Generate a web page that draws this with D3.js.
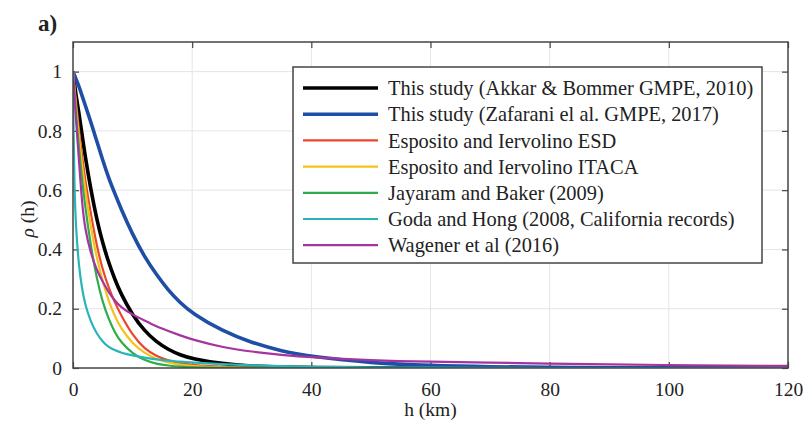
<!DOCTYPE html>
<html>
<head>
<meta charset="utf-8">
<script src="https://cdn.jsdelivr.net/npm/d3@7"></script>
<style>
  html, body { margin: 0; padding: 0; background: #fff; }
  svg { display: block; }
</style>
</head>
<body>
<svg id="chart" width="804" height="426"></svg>
<script>
// Separation distance h (km) at which each correlation model is sampled
const distances = [0, 0.1, 0.25, 0.5, 1, 1.5, 2, 3, 4, 5, 6, 7, 8, 10, 12, 14, 16, 18, 20,
  25, 30, 35, 40, 50, 60, 70, 80, 90, 100, 110, 120];

// Correlation coefficient rho(h) for each model
const akkarBommer = [1, 0.985, 0.96, 0.92, 0.86, 0.79, 0.72, 0.60, 0.50, 0.42, 0.355, 0.30, 0.252, 0.178, 0.125, 0.088, 0.062, 0.044, 0.031,
  0.014, 0.006, 0.003, 0.0015, 0.0005, 0, 0, 0, 0, 0, 0, 0];
const zafarani = [1, 0.995, 0.988, 0.975, 0.95, 0.92, 0.89, 0.83, 0.765, 0.70, 0.64, 0.59, 0.54, 0.45, 0.375, 0.315, 0.262, 0.22, 0.185,
  0.125, 0.085, 0.057, 0.038, 0.017, 0.008, 0.004, 0.002, 0.001, 0.0005, 0, 0];
const espositoESD = [1, 0.98, 0.95, 0.90, 0.80, 0.72, 0.64, 0.52, 0.41, 0.33, 0.27, 0.222, 0.18, 0.11, 0.064, 0.04, 0.025, 0.016, 0.01,
  0.004, 0.0013, 0.0004, 0, 0, 0, 0, 0, 0, 0, 0, 0];
const espositoITACA = [1, 0.975, 0.94, 0.88, 0.78, 0.69, 0.61, 0.47, 0.37, 0.29, 0.225, 0.175, 0.135, 0.082, 0.05, 0.03, 0.018, 0.011, 0.007,
  0.002, 0.0005, 0, 0, 0, 0, 0, 0, 0, 0, 0, 0];
const jayaramBaker = [1, 0.97, 0.93, 0.86, 0.74, 0.64, 0.55, 0.41, 0.30, 0.22, 0.165, 0.12, 0.088, 0.048, 0.026, 0.014, 0.008, 0.004, 0.002,
  0.0005, 0, 0, 0, 0, 0, 0, 0, 0, 0, 0, 0];
const godaHong = [1, 0.78, 0.60, 0.47, 0.34, 0.27, 0.215, 0.155, 0.115, 0.088, 0.07, 0.06, 0.052, 0.042, 0.035, 0.029, 0.025, 0.021, 0.019,
  0.013, 0.009, 0.006, 0.004, 0.002, 0.001, 0.0005, 0, 0, 0, 0, 0];
const wagener = [1, 0.96, 0.91, 0.84, 0.70, 0.56, 0.47, 0.385, 0.33, 0.29, 0.255, 0.228, 0.205, 0.18, 0.16, 0.14, 0.125, 0.11, 0.096,
  0.07, 0.055, 0.044, 0.036, 0.026, 0.021, 0.018, 0.015, 0.012, 0.010, 0.008, 0.007];

const seriesNames = [
  "This study (Akkar & Bommer GMPE, 2010)",
  "This study (Zafarani el al. GMPE, 2017)",
  "Esposito and Iervolino ESD",
  "Esposito and Iervolino ITACA",
  "Jayaram and Baker (2009)",
  "Goda and Hong (2008, California records)",
  "Wagener et al (2016)"
];
const seriesValues = [akkarBommer, zafarani, espositoESD, espositoITACA, jayaramBaker, godaHong, wagener];
const seriesColors = ["#000000", "#1f4ea6", "#e8472c", "#f4c21a", "#2fab4b", "#27b5b8", "#a6339f"];
const seriesWidths = [3.6, 3.6, 2.2, 2.2, 2.2, 2.2, 2.2];

const xTicks = [0, 20, 40, 60, 80, 100, 120];
const yTicks = [0, 0.2, 0.4, 0.6, 0.8, 1];

const serif = "Liberation Serif, Tinos, Times New Roman, Times, Noto Serif, DejaVu Serif, FreeSerif, serif";
const svg = d3.select("#chart");
const plot = { left: 73, right: 788, top: 42, bottom: 368 };

const x = d3.scaleLinear().domain([0, 120]).range([plot.left, plot.right]);
const y = d3.scaleLinear().domain([0, 1.1]).range([plot.bottom, plot.top]);

// grid
const grid = svg.append("g");
grid.selectAll("line.vx").data(xTicks.slice(1, -1)).join("line")
  .attr("x1", d => x(d)).attr("x2", d => x(d))
  .attr("y1", plot.top).attr("y2", plot.bottom)
  .attr("stroke", "#e4e4e4").attr("stroke-width", 1);
grid.selectAll("line.hy").data(yTicks.slice(1)).join("line")
  .attr("x1", plot.left).attr("x2", plot.right)
  .attr("y1", d => y(d)).attr("y2", d => y(d))
  .attr("stroke", "#e4e4e4").attr("stroke-width", 1);

// axes with inward ticks
const axisStyle = g => {
  g.attr("font-family", serif).attr("font-size", 19.5);
  g.select(".domain").remove();
  g.selectAll(".tick line").attr("stroke", "#444").attr("stroke-width", 1.2);
  g.selectAll(".tick text").attr("fill", "#222");
};
svg.append("g").attr("transform", `translate(0,${plot.bottom})`)
  .call(d3.axisBottom(x).tickValues(xTicks).tickFormat(d3.format("d")).tickSizeInner(-6).tickPadding(14))
  .call(axisStyle);
svg.append("g").attr("transform", `translate(${plot.left},0)`)
  .call(d3.axisLeft(y).tickValues(yTicks).tickFormat(d => d === 0 || d === 1 ? String(d) : d3.format(".1f")(d)).tickSizeInner(-6).tickPadding(11))
  .call(axisStyle);
svg.append("g").attr("transform", `translate(0,${plot.top})`)
  .call(d3.axisTop(x).tickValues(xTicks).tickFormat("").tickSizeInner(-6))
  .call(axisStyle);
svg.append("g").attr("transform", `translate(${plot.right},0)`)
  .call(d3.axisRight(y).tickValues(yTicks).tickFormat("").tickSizeInner(-6))
  .call(axisStyle);

// curves
const clipId = "plot-clip";
svg.append("clipPath").attr("id", clipId).append("rect")
  .attr("x", plot.left).attr("y", plot.top)
  .attr("width", plot.right - plot.left).attr("height", plot.bottom - plot.top);

const line = d3.line()
  .x(d => x(d[0])).y(d => y(d[1]))
  .curve(d3.curveBasis);

const curves = svg.append("g").attr("clip-path", `url(#${clipId})`);
seriesValues.forEach((vals, i) => {
  curves.append("path")
    .datum(distances.map((h, k) => [h, vals[k]]))
    .attr("d", line)
    .attr("fill", "none")
    .attr("stroke", seriesColors[i])
    .attr("stroke-width", seriesWidths[i])
    .attr("stroke-linejoin", "round");
});

// frame
svg.append("rect")
  .attr("x", plot.left).attr("y", plot.top)
  .attr("width", plot.right - plot.left).attr("height", plot.bottom - plot.top)
  .attr("fill", "none").attr("stroke", "#444").attr("stroke-width", 1.5);

// legend
const legend = { x: 293, y: 67, w: 469, h: 196, row0: 88, rowStep: 26.2 };
svg.append("rect")
  .attr("x", legend.x).attr("y", legend.y).attr("width", legend.w).attr("height", legend.h)
  .attr("fill", "#fff").attr("stroke", "#444").attr("stroke-width", 1.5);
const legendRows = svg.append("g").attr("font-family", serif).attr("font-size", 20.4).attr("fill", "#222");
seriesNames.forEach((name, i) => {
  const cy = legend.row0 + i * legend.rowStep;
  legendRows.append("line")
    .attr("x1", 303).attr("x2", 378).attr("y1", cy).attr("y2", cy)
    .attr("stroke", seriesColors[i]).attr("stroke-width", seriesWidths[i]);
  legendRows.append("text")
    .attr("x", 388).attr("y", cy).attr("dy", "0.35em")
    .text(name);
});

// axis titles
const titles = svg.append("g").attr("font-family", serif).attr("font-size", 19.5).attr("fill", "#222");
titles.append("text")
  .attr("x", (plot.left + plot.right) / 2).attr("y", 416)
  .attr("text-anchor", "middle")
  .text("h (km)");
const yl = titles.append("text")
  .attr("transform", `translate(34,${(plot.top + plot.bottom) / 2 + 14}) rotate(-90)`)
  .attr("text-anchor", "middle");
yl.append("tspan").attr("font-style", "italic").text("ρ");
yl.append("tspan").text(" (h)");

// panel label
svg.append("text")
  .attr("x", 38).attr("y", 31)
  .attr("font-family", serif).attr("font-size", 23).attr("font-weight", "bold").attr("fill", "#222")
  .text("a)");
</script>
</body>
</html>
